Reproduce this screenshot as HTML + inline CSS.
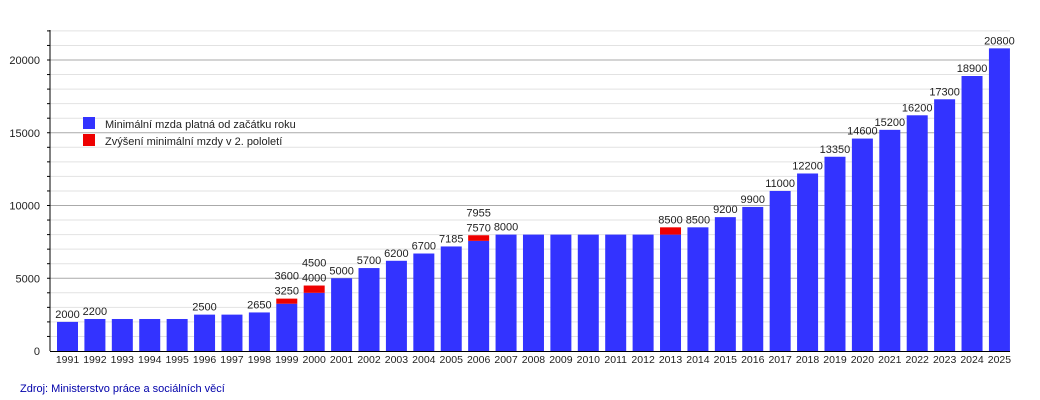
<!DOCTYPE html>
<html><head><meta charset="utf-8">
<style>
html,body{margin:0;padding:0;background:#fff;}
svg{display:block;font-family:"Liberation Sans",sans-serif;}
</style></head>
<body>
<svg id="chart" width="1040" height="400" xmlns="http://www.w3.org/2000/svg">
<g id="grid"></g>
<g id="bars"></g>
<g id="labels"></g>
<g id="axes"></g>
<g>
  <rect x="83" y="117" width="12" height="12" fill="#3333ff"/>
  <text x="105" y="128" font-size="11" fill="#222">Minimální mzda platná od začátku roku</text>
  <rect x="83" y="134" width="12" height="12" fill="#ee0000"/>
  <text x="105" y="145" font-size="11" fill="#222">Zvýšení minimální mzdy v 2. pololetí</text>
</g>
<text x="20" y="392" font-size="11" fill="#0000aa">Zdroj: Ministerstvo práce a sociálních věcí</text>
</svg>
<script>
const years = [1991,1992,1993,1994,1995,1996,1997,1998,1999,2000,2001,2002,2003,2004,2005,2006,2007,2008,2009,2010,2011,2012,2013,2014,2015,2016,2017,2018,2019,2020,2021,2022,2023,2024,2025];
const baseValues = [2000,2200,2200,2200,2200,2500,2500,2650,3250,4000,5000,5700,6200,6700,7185,7570,8000,8000,8000,8000,8000,8000,8000,8500,9200,9900,11000,12200,13350,14600,15200,16200,17300,18900,20800];
const raiseValues = [0,0,0,0,0,0,0,0,350,500,0,0,0,0,0,385,0,0,0,0,0,0,500,0,0,0,0,0,0,0,0,0,0,0,0];
const showLabel = [1,1,0,0,0,1,0,1,1,1,1,1,1,1,1,1,1,0,0,0,0,0,1,1,1,1,1,1,1,1,1,1,1,1,1];
const yTicks = [0,5000,10000,15000,20000];

const NS="http://www.w3.org/2000/svg";
const X0=50,X1=1010,Y0=351,PPU=0.01455,STEP=27.41,FIRST=67.5,BW=21;
const y=v=>Y0-v*PPU;
const xc=i=>FIRST+i*STEP;
function mk(tag,attrs,parent,text){const e=document.createElementNS(NS,tag);for(const k in attrs)e.setAttribute(k,attrs[k]);if(text!==undefined)e.textContent=text;parent.appendChild(e);return e;}
const grid=document.getElementById('grid'),bars=document.getElementById('bars'),labels=document.getElementById('labels'),axes=document.getElementById('axes');
for(let v=1000;v<=22000;v+=1000){
  const major=v%5000===0;
  const l=mk('line',{x1:X0,x2:X1,y1:y(v),y2:y(v),stroke:major?'#aaaaaa':'#e2e2e2','stroke-width':1},grid);
  
  
  const t=mk('line',{x1:X0-3,x2:X0,y1:y(v),y2:y(v),stroke:'#000','stroke-width':1},axes);
  
  
}
yTicks.forEach(v=>{
  const t=mk('text',{x:40,y:y(v)+4,'font-size':11,'text-anchor':'end',fill:'#222'},axes,String(v));
  
  
});
years.forEach((yr,i)=>{
  const b=baseValues[i],r=raiseValues[i],cx=xc(i);
  const rb=mk('rect',{x:cx-BW/2,y:y(b),width:BW,height:Y0-y(b),fill:'#3333ff'},bars);
  
  
  if(r>0){
    const rr=mk('rect',{x:cx-BW/2,y:y(b+r),width:BW,height:y(b)-y(b+r),fill:'#ee0000'},bars);
    
    
  }
  const xl=mk('text',{x:cx,y:Y0+12,'font-size':10.5,'text-anchor':'middle',fill:'#222'},axes,String(yr));
  
  
  if(showLabel[i]){
    const top=y(b+r);
    if(r>0 && yr!==2013){
      const a=mk('text',{x:cx,y:top-4,'font-size':11,'text-anchor':'middle',fill:'#222'},labels,String(b));
      
      
      const c=mk('text',{x:cx,y:top-19,'font-size':11,'text-anchor':'middle',fill:'#222'},labels,String(b+r));
      
      
    } else {
      const a=mk('text',{x:cx,y:top-4,'font-size':11,'text-anchor':'middle',fill:'#222'},labels,String(b+r));
      
      
    }
  }
});
const ya=mk('line',{x1:X0,x2:X0,y1:30,y2:Y0,stroke:'#000','stroke-width':1},axes);


const xa=mk('line',{x1:X0,x2:X1,y1:Y0+0.5,y2:Y0+0.5,stroke:'#000','stroke-width':1},axes);


</script>
</body></html>
